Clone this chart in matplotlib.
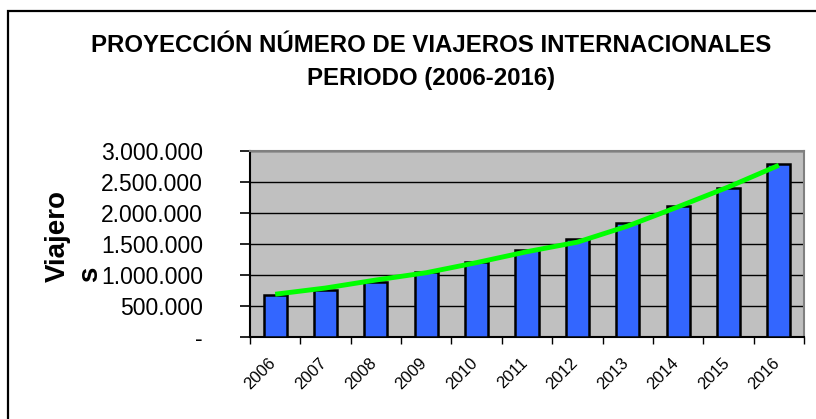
import matplotlib
matplotlib.use("Agg")
import matplotlib.pyplot as plt
from matplotlib.patches import Rectangle
from matplotlib.ticker import FuncFormatter

years = ["2006", "2007", "2008", "2009", "2010", "2011", "2012", "2013", "2014", "2015", "2016"]
viajeros = [677000, 758000, 887000, 1048000, 1210000, 1400000, 1580000, 1840000, 2110000, 2400000, 2790000]
tendencia = [690000, 790000, 919000, 1037000, 1200000, 1376000, 1530000, 1790000, 2100000, 2420000, 2770000]
yticks = [0, 500000, 1000000, 1500000, 2000000, 2500000, 3000000]

plt.rcParams['font.family'] = ['Liberation Sans', 'DejaVu Sans']

W, H = 816, 419
fig = plt.figure(figsize=(W / 100, H / 100), dpi=100)
fig.patch.set_facecolor("white")

# outer border (extends beyond the image right/bottom)
fig.patches.append(Rectangle((8 / W, -0.2), 1.2, 1 - 11 / H + 0.2, transform=fig.transFigure,
                             fill=False, edgecolor="black", linewidth=1.6, zorder=0))

left, right, top, bottom = 250, 804, 151, 337
ax = fig.add_axes([left / W, 1 - bottom / H, (right - left) / W, (bottom - top) / H])
ax.set_facecolor("#C0C0C0")

x = list(range(len(years)))
ax.bar(x, viajeros, width=0.46, color="#3366FF", edgecolor="black", linewidth=1.8, zorder=3)
ax.plot(x, tendencia, color="#00FF00", linewidth=3.5, zorder=4, solid_capstyle="butt")

ax.set_xlim(-0.5, len(years) - 0.5)
ax.set_ylim(0, 3000000)
ax.set_yticks(yticks)
ax.yaxis.set_major_formatter(FuncFormatter(
    lambda v, p: "-" if v == 0 else f"{int(v):,}".replace(",", ".")))
ax.yaxis.grid(True, color="black", linewidth=1.0, zorder=1)
ax.set_axisbelow(True)
ax.tick_params(axis="y", length=7, width=1.2, labelsize=16.5, pad=27, colors="black")

# x ticks at category boundaries
ax.set_xticks([i - 0.5 for i in range(len(years) + 1)])
ax.set_xticklabels([])
ax.tick_params(axis="x", length=5, width=1.0)
for i, yr in enumerate(years):
    ax.annotate(yr, xy=(i, 0), xycoords=("data", "axes fraction"),
                xytext=(-5, -13), textcoords="offset points",
                rotation=45, ha="right", va="top", fontsize=12, rotation_mode="anchor")

for s in ["left", "bottom"]:
    ax.spines[s].set_color("black")
    ax.spines[s].set_linewidth(1.5)
for s in ["top", "right"]:
    ax.spines[s].set_color("#808080")
    ax.spines[s].set_linewidth(1.5)

fig.text(431 / W, 1 - 45 / H, "PROYECCIÓN NÚMERO DE VIAJEROS INTERNACIONALES",
         ha="center", va="center", fontsize=17.3, fontweight="bold")
fig.text(431 / W, 1 - 78 / H, "PERIODO (2006-2016)",
         ha="center", va="center", fontsize=17.3, fontweight="bold")

fig.text(74 / W, 1 - 190 / H, "Viajero\ns", rotation=90, ha="center", va="top",
         multialignment="left", fontsize=20, fontweight="bold", linespacing=1.28,
         rotation_mode="default")

fig.savefig("out.png", dpi=100, facecolor="white")
